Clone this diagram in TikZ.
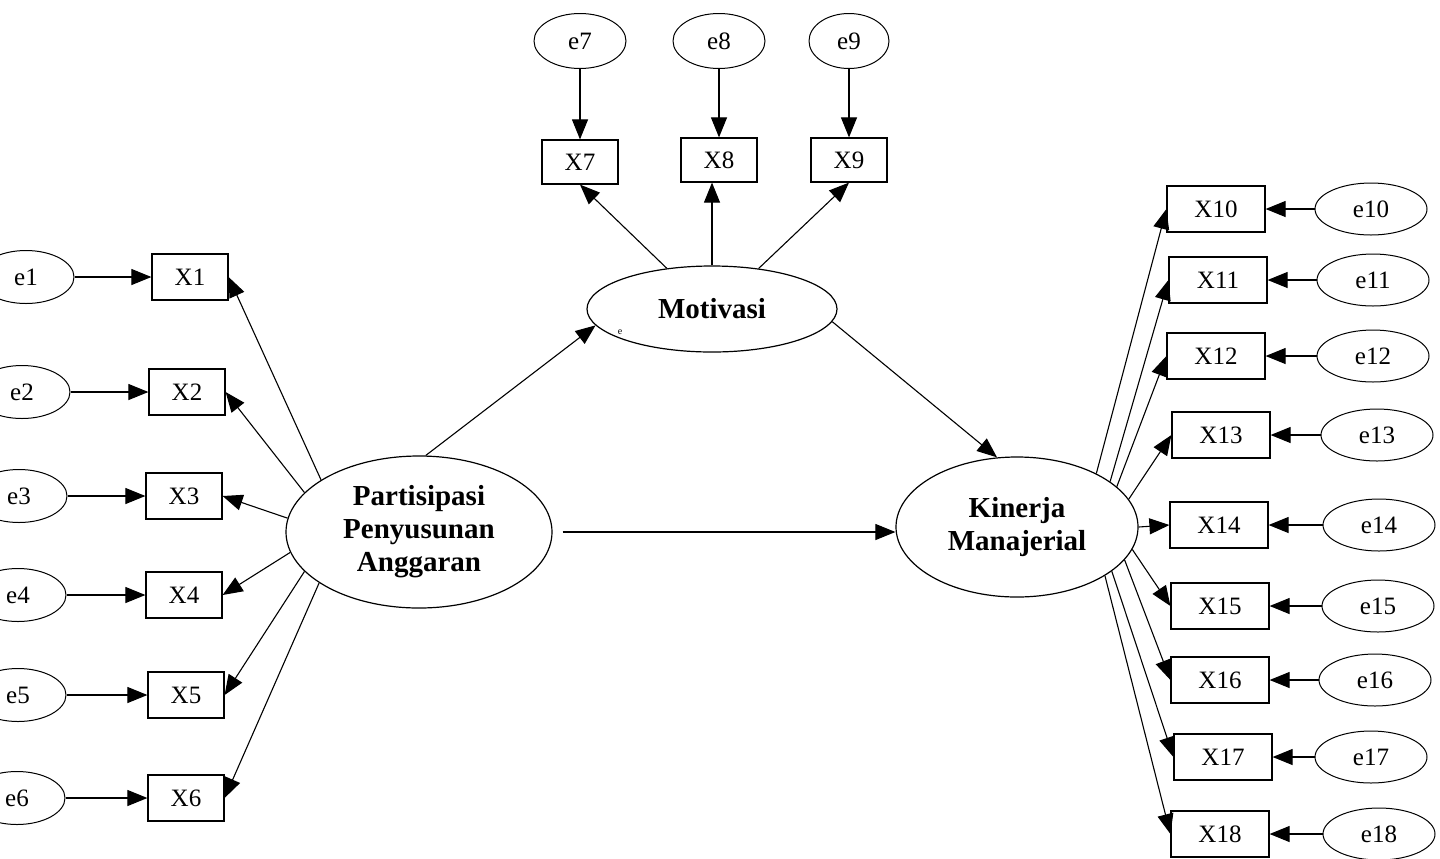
\documentclass[tikz,border=0pt]{standalone}
\usepackage{fontspec}
\setmainfont{Liberation Serif}
\usetikzlibrary{arrows.meta,shapes.geometric}
\tikzset{
	ind/.style={draw, line width=0.6pt, minimum width=38pt, minimum height=23pt, inner sep=0pt, font=\fontsize{12.5}{13}\selectfont},
	indw/.style={ind, minimum width=49pt},
	err/.style={draw, ellipse, line width=0.5pt, minimum width=48pt, minimum height=26.5pt, inner sep=0pt, font=\fontsize{12.5}{13}\selectfont},
	errw/.style={err, minimum width=56pt, minimum height=26pt},
	lat/.style={draw, ellipse, line width=0.6pt, inner sep=0pt, align=center, font=\fontsize{14.5}{16.5}\selectfont\bfseries},
	arr/.style={-{Triangle[length=10pt,width=8pt]}, line width=0.55pt},
}

\begin{document}
\begin{tikzpicture}[x=0.5pt, y=-0.5pt]
		%%%%% START %%%%%
		\useasboundingbox (0,0) rectangle (1440,858);
		\clip (0,0) rectangle (1440,858);
		
		\node[lat, minimum width=133pt, minimum height=76pt] (P) at (419,532) {Partisipasi\\Penyusunan\\Anggaran};
		\node[lat, minimum width=125pt, minimum height=43pt] (M) at (712,309) {Motivasi};
		\node[lat, minimum width=121pt, minimum height=70pt] (K) at (1017,527) {Kinerja\\Manajerial};
		\node[font=\fontsize{5}{5}\selectfont] (Mnote) at (620,332) {e};
		
		\node[err] (e1) at (26,277) {e1};
		\node[err] (e2) at (22,392) {e2};
		\node[err] (e3) at (19,496) {e3};
		\node[err] (e4) at (18,595) {e4};
		\node[err] (e5) at (18,695) {e5};
		\node[err] (e6) at (17,798) {e6};
		
		\node[ind] (X1) at (190,277) {X1};
		\node[ind] (X2) at (187,392) {X2};
		\node[ind] (X3) at (184,496) {X3};
		\node[ind] (X4) at (184,595) {X4};
		\node[ind] (X5) at (186,695) {X5};
		\node[ind] (X6) at (186,798) {X6};
		
		\node[err, minimum width=46pt, minimum height=27.5pt] (e7) at (580,41) {e7};
		\node[err, minimum width=46pt, minimum height=27.5pt] (e8) at (719,41) {e8};
		\node[err, minimum width=40pt, minimum height=27.5pt] (e9) at (849,41) {e9};
		
		\node[ind, minimum height=22pt] (X7) at (580,162) {X7};
		\node[ind, minimum height=22pt] (X8) at (719,160) {X8};
		\node[ind, minimum height=22pt] (X9) at (849,160) {X9};
		
		\node[indw] (X10) at (1216,209) {X10};
		\node[indw] (X11) at (1218,280) {X11};
		\node[indw] (X12) at (1216,356) {X12};
		\node[indw] (X13) at (1221,435) {X13};
		\node[indw] (X14) at (1219,525) {X14};
		\node[indw] (X15) at (1220,606) {X15};
		\node[indw] (X16) at (1220,680) {X16};
		\node[indw] (X17) at (1223,757) {X17};
		\node[indw] (X18) at (1220,834) {X18};
		
		\node[errw] (e10) at (1371,209) {e10};
		\node[errw] (e11) at (1373,280) {e11};
		\node[errw] (e12) at (1373,356) {e12};
		\node[errw] (e13) at (1377,435) {e13};
		\node[errw] (e14) at (1379,525) {e14};
		\node[errw] (e15) at (1378,606) {e15};
		\node[errw] (e16) at (1375,680) {e16};
		\node[errw] (e17) at (1371,757) {e17};
		\node[errw] (e18) at (1379,834) {e18};
		
		% errors into indicators
		\draw[arr] (e1.east) -- (X1.west);
		\draw[arr] (e2.east) -- (X2.west);
		\draw[arr] (e3.east) -- (X3.west);
		\draw[arr] (e4.east) -- (X4.west);
		\draw[arr] (e5.east) -- (X5.west);
		\draw[arr] (e6.east) -- (X6.west);
		\draw[arr] (e7.south) -- (X7.north);
		\draw[arr] (e8.south) -- (X8.north);
		\draw[arr] (e9.south) -- (X9.north);
		\draw[arr] (e10.west) -- (X10.east);
		\draw[arr] (e11.west) -- (X11.east);
		\draw[arr] (e12.west) -- (X12.east);
		\draw[arr] (e13.west) -- (X13.east);
		\draw[arr] (e14.west) -- (X14.east);
		\draw[arr] (e15.west) -- (X15.east);
		\draw[arr] (e16.west) -- (X16.east);
		\draw[arr] (e17.west) -- (X17.east);
		\draw[arr] (e18.west) -- (X18.east);
		
		% loadings
		\draw[arr] (P.152.8) -- (X1.east);
		\draw[arr] (P.161) -- (X2.east);
		\draw[arr] (P.174) -- (X3.east);
		\draw[arr] (P.189) -- (X4.east);
		\draw[arr] (P.199) -- (X5.east);
		\draw[arr] (P.207) -- (X6.east);
		\draw[arr] (M.138) -- (X7.south);
		\draw[arr] (M.north) -- (M.north |- X8.south);
		\draw[arr] (M.41) -- (X9.south);
		\draw[arr] (K.34.5) -- (X10.west);
		\draw[arr] (K.26.8) -- (X11.west);
		\draw[arr] (K.22.5) -- (X12.west);
		\draw[arr] (K.14) -- (X13.west);
		\draw[arr] (K.east) -- (X14.west);
		\draw[arr] (K.-11.6) -- (X15.west);
		\draw[arr] (K.-17) -- (X16.west);
		\draw[arr] (K.-25) -- (X17.west);
		\draw[arr] (K.-29.6) -- (X18.west);
		
		% structural paths
		\draw[arr] (P.85) -- (M.188);
		\draw[arr, shorten <=5pt] (P.east) -- (P.east -| K.west);
		\draw[arr] (M.-6) -- (K.106);
		
		%%%%% END %%%%%
	\end{tikzpicture}
\end{document}
